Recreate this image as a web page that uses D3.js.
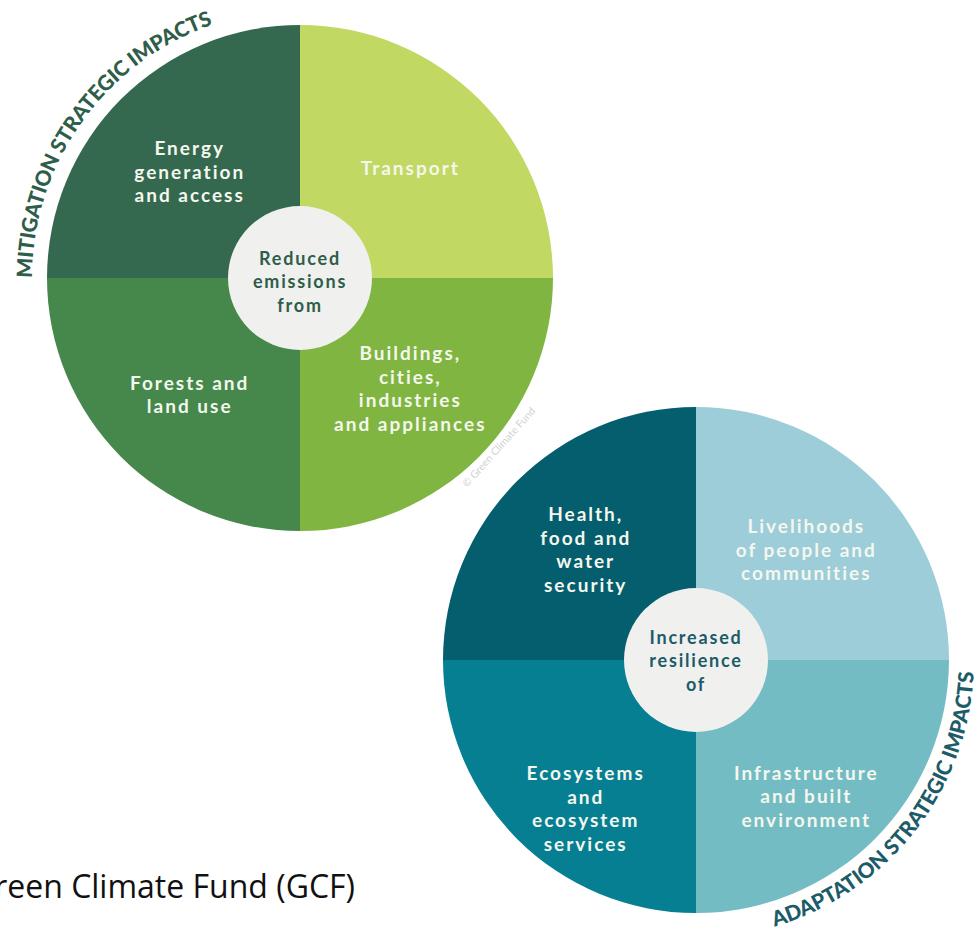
<!DOCTYPE html>
<html>
<head>
<meta charset="utf-8">
<script src="https://cdn.jsdelivr.net/npm/d3@7"></script>
<style>
  body { margin: 0; background: #fff; }
  svg { display: block; }
</style>
</head>
<body>
<div id="chart"></div>
<script>
// quadrants go clockwise from 12 o'clock: top-right, bottom-right, bottom-left, top-left
var mitigationAreas = [["Transport"], ["Buildings,", "cities,", "industries", "and appliances"], ["Forests and", "land use"], ["Energy", "generation", "and access"]];
var mitigationShares = [1, 1, 1, 1];
var mitigationColors = ["#c1d862", "#80b541", "#46884b", "#34694f"];
var mitigationCenter = ["Reduced", "emissions", "from"];
var mitigationTitle = "MITIGATION STRATEGIC IMPACTS";

var adaptationAreas = [["Livelihoods", "of people and", "communities"], ["Infrastructure", "and built", "environment"], ["Ecosystems", "and", "ecosystem", "services"], ["Health,", "food and", "water", "security"]];
var adaptationShares = [1, 1, 1, 1];
var adaptationColors = ["#9ccdd9", "#74bcc3", "#077f93", "#045e6d"];
var adaptationCenter = ["Increased", "resilience", "of"];
var adaptationTitle = "ADAPTATION STRATEGIC IMPACTS";

var sourceNote = "Green Climate Fund (GCF)";
var watermark = "\u00a9 Green Climate Fund";

var width = 979, height = 933;
var R = 253, hubR = 72, lineH = 23.5;
var labelFont = "Lato, 'Open Sans', sans-serif";

var svg = d3.select("#chart")
    .append("svg")
    .attr("width", width)
    .attr("height", height);

var deg = Math.PI / 180;

function drawWheel(cfg) {
    var g = svg.append("g")
        .attr("transform", "translate(" + cfg.cx + "," + cfg.cy + ")");

    var data = cfg.areas.map((a, i) => ({ lines: a, share: cfg.shares[i], color: cfg.colors[i] }));
    var pie = d3.pie().sort(null).value(d => d.share);
    var arc = d3.arc().innerRadius(0).outerRadius(R);
    var labelArc = d3.arc().innerRadius(156).outerRadius(156);
    var arcs = pie(data);

    g.selectAll("path.slice")
        .data(arcs)
        .enter()
        .append("path")
        .attr("class", "slice")
        .attr("d", arc)
        .style("fill", d => d.data.color);

    // quadrant labels, centred on the label arc (small vertical nudges per quadrant)
    arcs.forEach((d, i) => {
        var c = labelArc.centroid(d);
        var n = d.data.lines.length;
        var t = g.append("text")
            .attr("text-anchor", "middle")
            .style("font-family", labelFont)
            .style("font-weight", 700)
            .style("font-size", "19px")
            .style("letter-spacing", "2px")
            .style("fill", "#f4f7ee");
        d.data.lines.forEach((l, k) => {
            t.append("tspan")
                .attr("x", c[0])
                .attr("y", c[1] + cfg.nudge[i] + (k - (n - 1) / 2) * lineH + 7)
                .text(l);
        });
    });

    // hub
    g.append("circle")
        .attr("r", hubR)
        .style("fill", "#f0f0ef");
    var ht = g.append("text")
        .attr("text-anchor", "middle")
        .style("font-family", labelFont)
        .style("font-weight", 700)
        .style("font-size", "18px")
        .style("letter-spacing", "1.8px")
        .style("fill", cfg.hubColor);
    cfg.hub.forEach((l, k) => {
        ht.append("tspan")
            .attr("x", 0)
            .attr("y", cfg.hubNudge + (k - 1) * lineH + 7)
            .text(l);
    });

    // curved title outside the ring
    var p = d3.path();
    p.arc(0, 0, cfg.titleR, cfg.a0 * deg, cfg.a1 * deg, cfg.ccw);
    g.append("path")
        .attr("id", cfg.id)
        .attr("d", p.toString())
        .style("fill", "none");
    var len = cfg.titleR * Math.abs(cfg.a1 - cfg.a0) * deg;
    g.append("text")
        .style("font-family", labelFont)
        .style("font-weight", 900)
        .style("font-size", "21px")
        .style("fill", cfg.titleColor)
        .append("textPath")
        .attr("href", "#" + cfg.id)
        .attr("textLength", len)
        .attr("lengthAdjust", "spacing")
        .text(cfg.title);
}

drawWheel({
    id: "mitPath", cx: 300, cy: 278,
    areas: mitigationAreas, shares: mitigationShares, colors: mitigationColors,
    nudge: [0, 0, 6, 4], hubNudge: 3,
    hub: mitigationCenter, hubColor: "#2e5e49",
    title: mitigationTitle, titleColor: "#2e5e49",
    titleR: 268, a0: -180, a1: -109, ccw: false
});

drawWheel({
    id: "adaPath", cx: 696, cy: 660,
    areas: adaptationAreas, shares: adaptationShares, colors: adaptationColors,
    nudge: [0, 26, 38, 0], hubNudge: 0,
    hub: adaptationCenter, hubColor: "#1c5b68",
    title: adaptationTitle, titleColor: "#1c5b68",
    titleR: 278, a0: 73.6, a1: 2.5, ccw: true
});

// faint copyright mark beside the first wheel
svg.append("text")
    .attr("transform", "translate(467,488) rotate(-48)")
    .style("font-family", labelFont)
    .style("font-size", "10.5px")
    .style("fill", "#cfd3d3")
    .text(watermark);

// source line, clipped at the left edge like the original
svg.append("text")
    .attr("x", 355)
    .attr("y", 898)
    .attr("text-anchor", "end")
    .style("font-family", "'Open Sans', sans-serif")
    .style("font-size", "32px")
    .style("fill", "#111")
    .text(sourceNote);
</script>
</body>
</html>
